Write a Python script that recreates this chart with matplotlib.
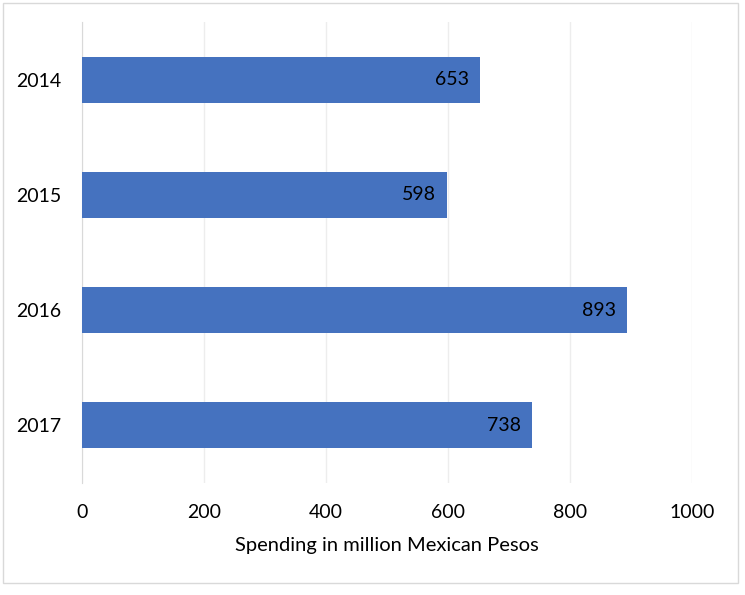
import matplotlib
matplotlib.use("Agg")
import matplotlib.pyplot as plt
from matplotlib.patches import Rectangle

years = ["2014", "2015", "2016", "2017"]
spending = [653, 598, 893, 738]
xticks = [0, 200, 400, 600, 800, 1000]
xlabel = "Spending in million Mexican Pesos"

plt.rcParams['font.family'] = ['Lato', 'DejaVu Sans']

fig = plt.figure(figsize=(7.45, 5.95), dpi=100)
ax = fig.add_axes([82/745, 1-483/595, (692-82)/745, (483-22)/595])

ypos = list(range(len(years)))
bars = ax.barh(ypos, spending, height=0.4, color="#4572BF", zorder=3)
ax.set_ylim(len(years)-0.5, -0.5)
ax.set_xlim(0, 1000)
ax.set_yticks(ypos)
ax.set_yticklabels(years, fontsize=14)
ax.set_xticks(xticks)
ax.set_xticklabels([str(t) for t in xticks], fontsize=14)
ax.tick_params(axis='x', length=0, pad=15)
ax.tick_params(axis='y', length=0, pad=15)
ax.xaxis.grid(True, color="#EDEDED", linewidth=1, zorder=0)
for s in ["top", "right", "bottom"]:
    ax.spines[s].set_visible(False)
ax.spines["left"].set_color("#D9D9D9")
ax.set_xlabel(xlabel, fontsize=14.5, labelpad=12)

for b, v in zip(bars, spending):
    ax.annotate(str(v), (v, b.get_y() + b.get_height()/2), xytext=(-8, 0),
                textcoords="offset points", ha="right", va="center", fontsize=14, color="black", zorder=4)

fig.patches.append(Rectangle((3/745, 1-583/595), (738-3)/745, (583-3)/595, transform=fig.transFigure,
                             fill=False, edgecolor="#D9D9D9", linewidth=1))

fig.savefig("out.png", dpi=100)
